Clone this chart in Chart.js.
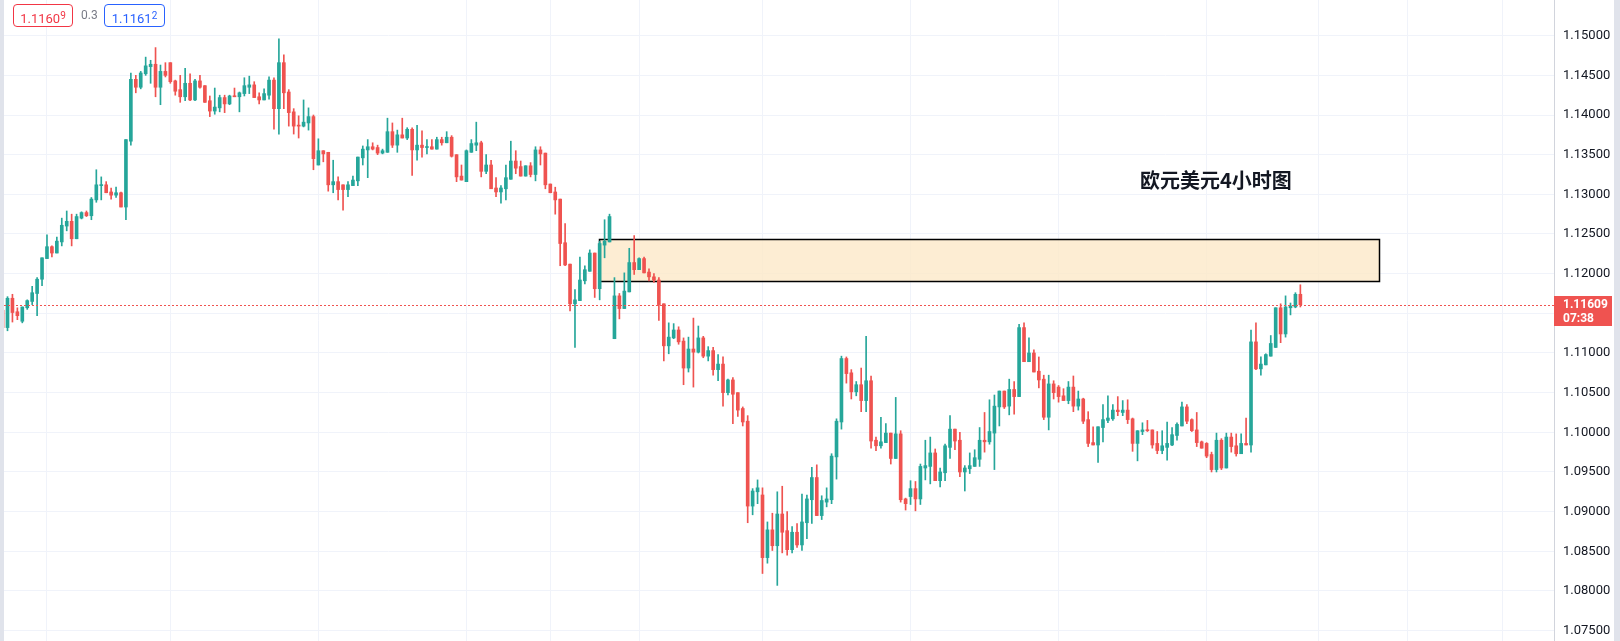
<!DOCTYPE html>
<html>
<head>
<meta charset="utf-8">
<title>EURUSD 4H</title>
<script src="https://cdn.jsdelivr.net/npm/chart.js@4.4.1/dist/chart.umd.min.js"></script>
<style>
  html, body { margin: 0; padding: 0; background: #fff; }
  #wrap { position: relative; width: 1620px; height: 641px; overflow: hidden; font-family: Roboto, "Liberation Sans", sans-serif; }
  #chart { position: absolute; left: 0; top: 0; }
  .pill { position: absolute; top: 4px; height: 23px; box-sizing: border-box; border: 1px solid; border-radius: 4px;
          line-height: 21px; text-align: center; font-size: 13px; background: #fff; }
  .pill.sell { left: 13px; width: 60px; color: #f23645; border-color: #f23645; }
  .pill.buy { left: 104px; width: 61px; color: #2962ff; border-color: #2962ff; }
  .pill span { font-size: 10px; vertical-align: 4px; }
  #spread { position: absolute; left: 81px; top: 4px; line-height: 23px; font-size: 12px; color: #787b86; }
  #title { position: absolute; left: 1140px; top: 170px; line-height: 20px; font-size: 20px; font-weight: bold;
           color: #131722; font-family: "Noto Sans CJK SC", sans-serif; white-space: nowrap; }
</style>
</head>
<body>
<div id="wrap">
  <canvas id="chart" width="1620" height="641"></canvas>
  <div class="pill sell">1.1160<span>9</span></div>
  <div id="spread">0.3</div>
  <div class="pill buy">1.1161<span>2</span></div>
  <div id="title">欧元美元4小时图</div>
</div>
<script>
// EURUSD 4h candles, oldest first
const opens = [
  1.1154, 1.1132, 1.1169, 1.1152, 1.1140, 1.1157, 1.1165, 1.1175, 1.1193, 1.1219,
  1.1234, 1.1226, 1.1240, 1.1260, 1.1266, 1.1244, 1.1270, 1.1277, 1.1273, 1.1293,
  1.1311, 1.1312, 1.1303, 1.1299, 1.1302, 1.1284, 1.1367, 1.1445, 1.1435, 1.1452,
  1.1461, 1.1464, 1.1435, 1.1455, 1.1466, 1.1443, 1.1432, 1.1423, 1.1440, 1.1419,
  1.1443, 1.1437, 1.1418, 1.1405, 1.1409, 1.1422, 1.1414, 1.1424, 1.1423, 1.1427,
  1.1435, 1.1438, 1.1423, 1.1419, 1.1425, 1.1444, 1.1408, 1.1466, 1.1429, 1.1404,
  1.1387, 1.1386, 1.1390, 1.1398, 1.1337, 1.1355, 1.1353, 1.1312, 1.1316, 1.1312,
  1.1306, 1.1311, 1.1317, 1.1346, 1.1356, 1.1360, 1.1359, 1.1352, 1.1353, 1.1379,
  1.1362, 1.1375, 1.1371, 1.1382, 1.1356, 1.1362, 1.1359, 1.1360, 1.1357, 1.1369,
  1.1365, 1.1372, 1.1350, 1.1323, 1.1316, 1.1353, 1.1362, 1.1365, 1.1329, 1.1337,
  1.1308, 1.1303, 1.1307, 1.1319, 1.1342, 1.1335, 1.1323, 1.1336, 1.1325, 1.1356,
  1.1352, 1.1313, 1.1303, 1.1294, 1.1239, 1.1212, 1.1162, 1.1166, 1.1191, 1.1203,
  1.1226, 1.1181, 1.1236, 1.1240, 1.1118, 1.1172, 1.1156, 1.1177, 1.1214, 1.1205,
  1.1219, 1.1202, 1.1196, 1.1192, 1.1162, 1.1109, 1.1119, 1.1129, 1.1115, 1.1081,
  1.1105, 1.1101, 1.1119, 1.1096, 1.1103, 1.1079, 1.1086, 1.1050, 1.1066, 1.1050,
  1.1030, 1.1014, 1.0907, 1.0925, 1.0921, 1.0842, 1.0877, 1.0857, 1.0897, 1.0876,
  1.0852, 1.0874, 1.0858, 1.0886, 1.0915, 1.0943, 1.0895, 1.0912, 1.0915, 1.0969,
  1.1013, 1.1093, 1.1075, 1.1051, 1.1060, 1.1040, 1.1065, 1.0990, 1.0983, 1.0987,
  1.0999, 1.0967, 1.0998, 1.0916, 1.0919, 1.0929, 1.0916, 1.0955, 1.0957, 1.0974,
  1.0939, 1.0949, 1.0981, 1.1004, 1.0990, 1.0950, 1.0954, 1.0957, 1.0966, 1.0990,
  1.0988, 1.0999, 1.1032, 1.1052, 1.1033, 1.1054, 1.1045, 1.1132, 1.1089, 1.1100,
  1.1077, 1.1067, 1.1019, 1.1061, 1.1057, 1.1046, 1.1040, 1.1057, 1.1033, 1.1042,
  1.1016, 1.0987, 1.0984, 1.1006, 1.1015, 1.1017, 1.1028, 1.1025, 1.1028, 1.1017,
  1.0986, 1.1001, 1.1003, 1.1003, 1.0986, 1.0977, 1.0981, 1.0984, 1.0996, 1.1008,
  1.1032, 1.1016, 1.1003, 1.0988, 1.0986, 1.0972, 1.0953, 1.0990, 1.0955, 1.0994,
  1.0983, 1.0973, 1.0986, 1.0984, 1.1114, 1.1080, 1.1085, 1.1096, 1.1107, 1.1157,
  1.1124, 1.1157, 1.1158, 1.1174
];
const highs = [
  1.1157, 1.1171, 1.1174, 1.1157, 1.1158, 1.1167, 1.1184, 1.1195, 1.1220, 1.1249,
  1.1235, 1.1246, 1.1270, 1.1279, 1.1275, 1.1275, 1.1278, 1.1279, 1.1296, 1.1331,
  1.1322, 1.1316, 1.1308, 1.1309, 1.1303, 1.1369, 1.1453, 1.1450, 1.1455, 1.1473,
  1.1469, 1.1485, 1.1463, 1.1466, 1.1466, 1.1444, 1.1450, 1.1459, 1.1452, 1.1445,
  1.1450, 1.1437, 1.1424, 1.1434, 1.1425, 1.1425, 1.1425, 1.1434, 1.1429, 1.1447,
  1.1449, 1.1442, 1.1428, 1.1433, 1.1448, 1.1447, 1.1496, 1.1476, 1.1432, 1.1408,
  1.1399, 1.1419, 1.1409, 1.1400, 1.1370, 1.1355, 1.1353, 1.1343, 1.1322, 1.1312,
  1.1316, 1.1323, 1.1347, 1.1361, 1.1369, 1.1365, 1.1362, 1.1357, 1.1396, 1.1390,
  1.1381, 1.1396, 1.1384, 1.1384, 1.1387, 1.1380, 1.1369, 1.1369, 1.1372, 1.1372,
  1.1379, 1.1374, 1.1350, 1.1337, 1.1356, 1.1369, 1.1391, 1.1367, 1.1350, 1.1343,
  1.1321, 1.1311, 1.1337, 1.1367, 1.1355, 1.1342, 1.1336, 1.1340, 1.1360, 1.1360,
  1.1352, 1.1313, 1.1309, 1.1294, 1.1263, 1.1212, 1.1180, 1.1221, 1.1210, 1.1230,
  1.1226, 1.1241, 1.1268, 1.1275, 1.1195, 1.1175, 1.1201, 1.1232, 1.1248, 1.1220,
  1.1221, 1.1206, 1.1200, 1.1195, 1.1162, 1.1138, 1.1137, 1.1133, 1.1119, 1.1120,
  1.1144, 1.1134, 1.1121, 1.1108, 1.1107, 1.1098, 1.1095, 1.1067, 1.1069, 1.1050,
  1.1032, 1.1021, 1.0929, 1.0940, 1.0930, 1.0887, 1.0898, 1.0925, 1.0932, 1.0900,
  1.0881, 1.0885, 1.0922, 1.0921, 1.0956, 1.0959, 1.0920, 1.0930, 1.0973, 1.1017,
  1.1096, 1.1095, 1.1079, 1.1064, 1.1081, 1.1121, 1.1071, 1.0994, 1.1019, 1.1011,
  1.0999, 1.1044, 1.1002, 1.0917, 1.0939, 1.0938, 1.0960, 1.0990, 1.0994, 1.0979,
  1.0955, 1.0985, 1.1021, 1.1004, 1.1000, 1.0958, 1.0974, 1.0978, 1.1006, 1.1025,
  1.1041, 1.1047, 1.1052, 1.1052, 1.1067, 1.1064, 1.1136, 1.1138, 1.1119, 1.1104,
  1.1095, 1.1072, 1.1072, 1.1065, 1.1059, 1.1055, 1.1064, 1.1071, 1.1052, 1.1043,
  1.1026, 1.1007, 1.1007, 1.1035, 1.1046, 1.1035, 1.1045, 1.1040, 1.1041, 1.1018,
  1.1002, 1.1012, 1.1015, 1.1003, 1.1001, 1.1002, 1.1013, 1.1006, 1.1012, 1.1038,
  1.1035, 1.1017, 1.1025, 1.0989, 1.0987, 1.0975, 1.0999, 1.0992, 1.0999, 1.0999,
  1.0998, 1.0998, 1.1018, 1.1129, 1.1138, 1.1095, 1.1099, 1.1122, 1.1157, 1.1162,
  1.1172, 1.1163, 1.1176, 1.1186
];
const lows = [
  1.1129, 1.1128, 1.1139, 1.1142, 1.1138, 1.1155, 1.1161, 1.1147, 1.1185, 1.1219,
  1.1221, 1.1226, 1.1235, 1.1254, 1.1235, 1.1244, 1.1269, 1.1272, 1.1268, 1.1290,
  1.1293, 1.1302, 1.1294, 1.1296, 1.1284, 1.1268, 1.1362, 1.1428, 1.1433, 1.1450,
  1.1440, 1.1423, 1.1413, 1.1448, 1.1440, 1.1425, 1.1416, 1.1418, 1.1418, 1.1418,
  1.1434, 1.1416, 1.1398, 1.1401, 1.1404, 1.1403, 1.1413, 1.1423, 1.1404, 1.1424,
  1.1427, 1.1422, 1.1414, 1.1419, 1.1420, 1.1382, 1.1376, 1.1408, 1.1386, 1.1376,
  1.1371, 1.1385, 1.1381, 1.1331, 1.1337, 1.1341, 1.1304, 1.1302, 1.1293, 1.1280,
  1.1297, 1.1311, 1.1311, 1.1337, 1.1321, 1.1356, 1.1350, 1.1351, 1.1353, 1.1359,
  1.1353, 1.1371, 1.1369, 1.1324, 1.1343, 1.1347, 1.1351, 1.1357, 1.1357, 1.1362,
  1.1365, 1.1347, 1.1316, 1.1318, 1.1316, 1.1353, 1.1355, 1.1322, 1.1326, 1.1307,
  1.1297, 1.1289, 1.1293, 1.1319, 1.1326, 1.1323, 1.1323, 1.1322, 1.1317, 1.1337,
  1.1307, 1.1302, 1.1275, 1.1210, 1.1210, 1.1153, 1.1107, 1.1166, 1.1187, 1.1203,
  1.1170, 1.1167, 1.1220, 1.1240, 1.1118, 1.1143, 1.1156, 1.1177, 1.1199, 1.1205,
  1.1201, 1.1191, 1.1189, 1.1141, 1.1090, 1.1099, 1.1118, 1.1111, 1.1060, 1.1076,
  1.1057, 1.1100, 1.1094, 1.1090, 1.1072, 1.1065, 1.1033, 1.1047, 1.1011, 1.1020,
  1.1008, 1.0886, 1.0896, 1.0910, 1.0822, 1.0835, 1.0851, 1.0807, 1.0848, 1.0845,
  1.0848, 1.0855, 1.0851, 1.0866, 1.0885, 1.0895, 1.0890, 1.0906, 1.0910, 1.0941,
  1.1004, 1.1062, 1.1042, 1.1046, 1.1026, 1.1026, 1.0980, 1.0977, 1.0980, 1.0987,
  1.0960, 1.0967, 1.0912, 1.0902, 1.0909, 1.0901, 1.0909, 1.0940, 1.0935, 1.0939,
  1.0931, 1.0939, 1.0967, 1.0978, 1.0944, 1.0926, 1.0948, 1.0957, 1.0957, 1.0975,
  1.0985, 1.0953, 1.1008, 1.1030, 1.1022, 1.1023, 1.1045, 1.1089, 1.1089, 1.1076,
  1.1056, 1.1016, 1.1003, 1.1042, 1.1038, 1.1040, 1.1036, 1.1026, 1.1028, 1.1011,
  1.0982, 1.0984, 1.0962, 1.0988, 1.1012, 1.1015, 1.1021, 1.1021, 1.1011, 1.0976,
  1.0964, 1.0997, 1.1001, 1.0980, 1.0973, 1.0973, 1.0965, 1.0983, 1.0990, 1.1008,
  1.1011, 1.1001, 1.0982, 1.0980, 1.0968, 1.0950, 1.0950, 1.0953, 1.0955, 1.0975,
  1.0970, 1.0973, 1.0984, 1.0975, 1.1079, 1.1072, 1.1085, 1.1096, 1.1107, 1.1113,
  1.1120, 1.1148, 1.1157, 1.1158
];
const closes = [
  1.1132, 1.1169, 1.1151, 1.1147, 1.1158, 1.1166, 1.1176, 1.1193, 1.1220, 1.1234,
  1.1226, 1.1241, 1.1261, 1.1266, 1.1244, 1.1272, 1.1277, 1.1273, 1.1294, 1.1312,
  1.1312, 1.1302, 1.1299, 1.1302, 1.1284, 1.1369, 1.1445, 1.1435, 1.1453, 1.1462,
  1.1464, 1.1435, 1.1455, 1.1450, 1.1442, 1.1430, 1.1423, 1.1440, 1.1419, 1.1443,
  1.1435, 1.1416, 1.1405, 1.1410, 1.1422, 1.1414, 1.1424, 1.1423, 1.1428, 1.1437,
  1.1438, 1.1422, 1.1419, 1.1427, 1.1444, 1.1408, 1.1466, 1.1428, 1.1403, 1.1386,
  1.1386, 1.1391, 1.1398, 1.1345, 1.1355, 1.1351, 1.1312, 1.1316, 1.1306, 1.1306,
  1.1312, 1.1318, 1.1347, 1.1357, 1.1360, 1.1357, 1.1352, 1.1355, 1.1379, 1.1362,
  1.1375, 1.1371, 1.1382, 1.1356, 1.1362, 1.1359, 1.1360, 1.1357, 1.1369, 1.1365,
  1.1372, 1.1348, 1.1322, 1.1318, 1.1355, 1.1364, 1.1365, 1.1329, 1.1337, 1.1307,
  1.1303, 1.1308, 1.1321, 1.1342, 1.1333, 1.1323, 1.1336, 1.1325, 1.1356, 1.1351,
  1.1312, 1.1302, 1.1293, 1.1238, 1.1211, 1.1162, 1.1167, 1.1192, 1.1205, 1.1226,
  1.1181, 1.1238, 1.1241, 1.1272, 1.1172, 1.1156, 1.1178, 1.1214, 1.1205, 1.1219,
  1.1201, 1.1196, 1.1192, 1.1161, 1.1109, 1.1120, 1.1129, 1.1114, 1.1081, 1.1105,
  1.1101, 1.1119, 1.1096, 1.1103, 1.1079, 1.1086, 1.1050, 1.1066, 1.1048, 1.1028,
  1.1013, 1.0907, 1.0926, 1.0930, 1.0842, 1.0877, 1.0857, 1.0897, 1.0874, 1.0852,
  1.0874, 1.0858, 1.0887, 1.0916, 1.0943, 1.0895, 1.0914, 1.0916, 1.0970, 1.1014,
  1.1093, 1.1074, 1.1051, 1.1060, 1.1040, 1.1065, 1.0989, 1.0983, 1.0988, 1.0999,
  1.0967, 1.0998, 1.0915, 1.0910, 1.0929, 1.0916, 1.0957, 1.0958, 1.0974, 1.0939,
  1.0950, 1.0983, 1.1004, 1.0989, 1.0950, 1.0955, 1.0958, 1.0968, 1.0990, 1.0988,
  1.1001, 1.1033, 1.1052, 1.1032, 1.1054, 1.1045, 1.1132, 1.1089, 1.1100, 1.1076,
  1.1066, 1.1019, 1.1061, 1.1050, 1.1045, 1.1040, 1.1057, 1.1033, 1.1042, 1.1014,
  1.0986, 1.0984, 1.1007, 1.1016, 1.1018, 1.1028, 1.1026, 1.1028, 1.1016, 1.0986,
  1.1002, 1.1003, 1.1002, 1.0984, 1.0977, 1.0983, 1.0986, 1.0997, 1.1010, 1.1032,
  1.1014, 1.1002, 1.0987, 1.0980, 1.0970, 1.0953, 1.0990, 1.0955, 1.0994, 1.0982,
  1.0973, 1.0986, 1.0984, 1.1114, 1.1080, 1.1086, 1.1098, 1.1112, 1.1157, 1.1124,
  1.1158, 1.1159, 1.1174, 1.11609
];

// price axis ticks and the candle slots where the vertical grid falls
const priceTicks = [1.075, 1.08, 1.085, 1.09, 1.095, 1.1, 1.105, 1.11, 1.115, 1.12, 1.125, 1.13, 1.135, 1.14, 1.145, 1.15];
const timeTicks = [9, 34, 64, 94, 111, 129, 154, 184, 214, 244, 266.7, 284.8, 303.9];

// resistance zone drawn on the chart
const zoneFrom = 120.9, zoneTo = 279.0;
const zoneHigh = 1.12437, zoneLow = 1.11903;

const lastPrice = closes[closes.length - 1];
const countdown = '07:38';

const upColor = '#26a69a';
const downColor = '#ef5350';
const colors = closes.map((c, i) => c >= opens[i] ? upColor : downColor);

const zonePlugin = {
    id: 'zone',
    beforeDatasetsDraw(chart) {
        const { ctx, scales: { x, y } } = chart;
        const x1 = Math.round(x.getPixelForValue(zoneFrom)) + 0.5;
        const x2 = Math.round(x.getPixelForValue(zoneTo)) + 0.5;
        const y1 = Math.round(y.getPixelForValue(zoneHigh)) + 0.5;
        const y2 = Math.round(y.getPixelForValue(zoneLow)) + 0.5;
        ctx.save();
        ctx.fillStyle = 'rgba(253, 232, 200, 0.8)';
        ctx.fillRect(x1, y1, x2 - x1, y2 - y1);
        ctx.strokeStyle = '#000';
        ctx.lineWidth = 1.5;
        ctx.strokeRect(x1, y1, x2 - x1, y2 - y1);
        ctx.restore();
    }
};

const priceLinePlugin = {
    id: 'priceLine',
    afterDraw(chart) {
        const { ctx, chartArea, scales: { y } } = chart;
        const py = Math.round(y.getPixelForValue(lastPrice)) + 0.5;
        ctx.save();
        ctx.strokeStyle = '#ef5350';
        ctx.lineWidth = 1;
        ctx.setLineDash([2, 2]);
        ctx.beginPath();
        ctx.moveTo(chartArea.left, py);
        ctx.lineTo(chartArea.right, py);
        ctx.stroke();
        ctx.setLineDash([]);

        // last price tag on the axis
        const tx = chartArea.right;
        ctx.fillStyle = '#ef5350';
        ctx.fillRect(tx, py - 9.5, 58, 30);
        ctx.fillStyle = '#fff';
        ctx.font = 'bold 12px Roboto';
        ctx.textBaseline = 'middle';
        ctx.textAlign = 'left';
        ctx.fillText(lastPrice.toFixed(5), tx + 9, py - 1);
        ctx.fillText(countdown, tx + 9, py + 13);

        // window edges
        ctx.fillStyle = '#e0e3eb';
        ctx.fillRect(0, 0, 4, chart.height);
        ctx.fillRect(1614, 0, 6, chart.height);
        ctx.restore();
    }
};

new Chart(document.getElementById('chart'), {
    type: 'bar',
    data: {
        datasets: [{
                label: 'wick',
                data: opens.map((o, i) => ({ x: i, y: [lows[i], highs[i]] })),
                backgroundColor: colors,
                barThickness: 1,
                minBarLength: 1,
            },
            {
                label: 'body',
                data: opens.map((o, i) => ({ x: i, y: [o, closes[i]] })),
                backgroundColor: colors,
                barThickness: 3,
                minBarLength: 1,
            }
        ]
    },
    options: {
        responsive: false,
        animation: false,
        devicePixelRatio: 1,
        grouped: false,
        layout: { padding: 0 },
        plugins: {
            legend: { display: false },
            tooltip: { enabled: false }
        },
        scales: {
            x: {
                type: 'linear',
                min: -0.52,
                max: 314.4,
                offset: false,
                afterBuildTicks: axis => { axis.ticks = timeTicks.map(v => ({ value: v })) },
                afterFit: axis => {
                    axis.height = 0;
                    axis.paddingLeft = 0;
                    axis.paddingRight = 0;
                },
                ticks: { display: false },
                grid: { color: '#f0f3fa', drawTicks: false, offset: false },
                border: { display: false }
            },
            y: {
                position: 'right',
                min: 1.07369,
                max: 1.1545,
                afterBuildTicks: axis => { axis.ticks = priceTicks.map(v => ({ value: v })) },
                afterFit: axis => {
                    axis.width = 66;
                    axis.paddingTop = 0;
                    axis.paddingBottom = 0;
                },
                ticks: {
                    padding: 9,
                    color: '#131722',
                    font: { family: 'Roboto', size: 13 },
                    callback: v => v.toFixed(5)
                },
                grid: { color: '#f0f3fa', drawTicks: false },
                border: { color: '#d1d4dc' }
            }
        }
    },
    plugins: [zonePlugin, priceLinePlugin]
});
</script>
</body>
</html>
